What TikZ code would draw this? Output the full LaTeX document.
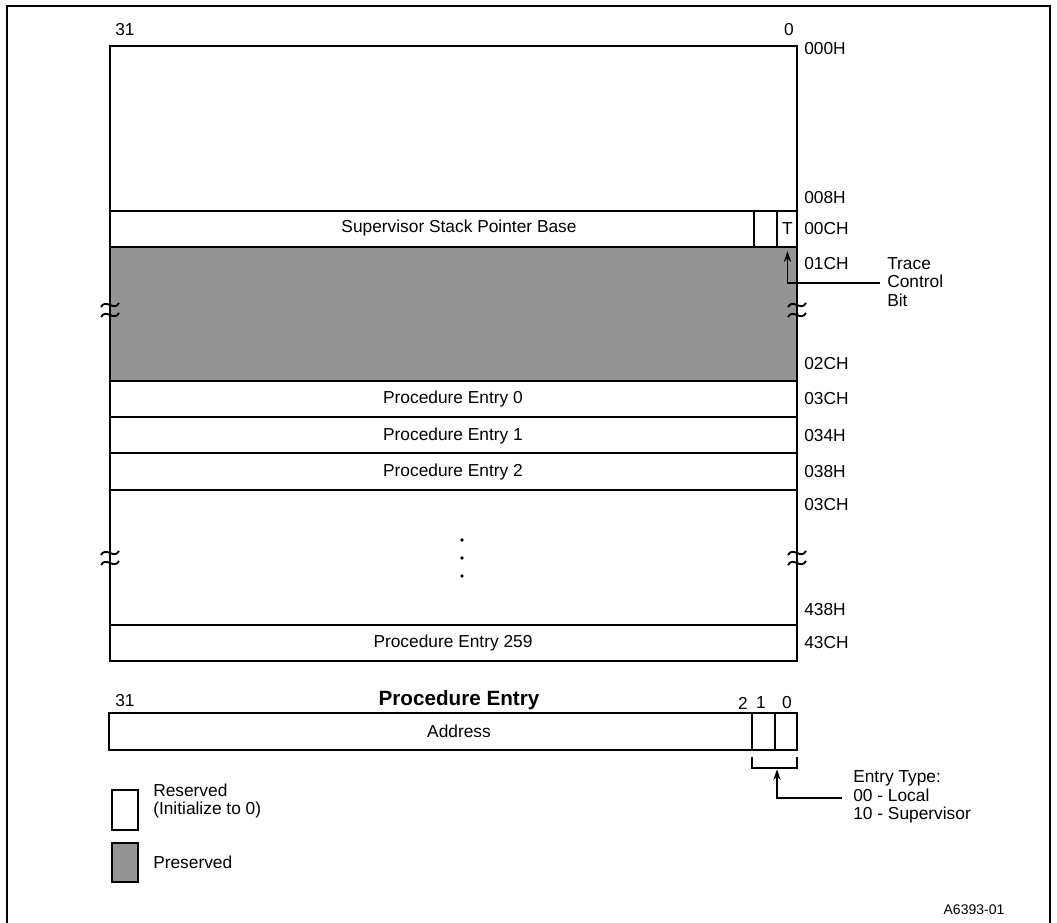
\documentclass[tikz,border=0pt]{standalone}
\usepackage{fontspec}
\setmainfont{Liberation Sans}
\usetikzlibrary{arrows.meta}
\begin{document}
\begin{tikzpicture}[x=0.75pt,y=-0.75pt,
  lbl/.style={font=\fontsize{13}{13.8}\selectfont, inner sep=0pt},
  addr/.style={lbl, anchor=west},
  boxline/.style={line width=1.8pt},
  rowline/.style={line width=1.6pt},
  brk/.style={line width=1.4pt},
  conn/.style={line width=1pt, -{Stealth[length=8pt,width=5.5pt]}}]
\useasboundingbox (0,0) rectangle (1057,923);
% outer frame
\draw[line width=0.8pt] (7,923) -- (7,6) -- (1050,6) -- (1050,923);

% shaded (preserved) region
\fill[black!42] (110,247) rectangle (797,381);
% main box
\draw[boxline] (110,46) rectangle (797,661);
\foreach \y in {211,247,381,417,453,490,625} \draw[rowline] (110,\y) -- (797,\y);
\draw[rowline] (754,211) -- (754,247) (777,211) -- (777,247);

% break marks
\foreach \x/\y in {110/305,110/315,797/305,797/315,110/553,110/563,797/553,797/563}
  \draw[brk] (\x-9,\y+2) .. controls (\x-4,\y-7) and (\x+4,\y+7) .. (\x+9,\y-2);

% bit numbers
\node[lbl] (b31) at (125,30) {31};
\node[lbl] (b0) at (789,30) {0};

% addresses
\node[addr] (a000) at (804,49) {000H};
\node[addr] (a008) at (804,198) {008H};
\node[addr] (a00c) at (804,229) {00CH};
\node[addr] (a01c) at (804,264) {01CH};
\node[addr] (a02c) at (804,364) {02CH};
\node[addr] (a03c) at (804,399) {03CH};
\node[addr] (a034) at (804,436) {034H};
\node[addr] (a038) at (804,472) {038H};
\node[addr] (a03cb) at (804,505) {03CH};
\node[addr] (a438) at (804,610) {438H};
\node[addr] (a43c) at (804,643) {43CH};

% row texts
\node[lbl] (ssp) at (459,228) {Supervisor Stack Pointer Base};
\node[lbl, minimum width=15pt, minimum height=27pt] (tcell) at (787.5,229) {T};
\node[lbl] (pe0) at (453,399) {Procedure Entry 0};
\node[lbl] (pe1) at (453,436) {Procedure Entry 1};
\node[lbl] (pe2) at (453,472) {Procedure Entry 2};
\node[lbl] (pe259) at (453,643) {Procedure Entry 259};
\foreach \y in {540,558,576} \fill (462,\y) circle (1.9);

% trace control bit
\node[lbl, anchor=west, align=left] (trace) at (887,282) {Trace\\Control\\Bit};
\coordinate (trstart) at (880,283);
\draw[conn] (trstart) -| ([yshift=-3pt]tcell.south);

% procedure entry format
\node[lbl] (p31) at (125,701) {31};
\node[font=\fontsize{15.5}{17}\selectfont\bfseries, inner sep=0pt] (ptitle) at (459,700) {Procedure Entry};
\node[lbl] (p2) at (743,703) {2};
\node[lbl] (p1) at (761,703) {1};
\node[lbl] (p0) at (787,703) {0};
\draw[boxline] (109,713) rectangle (797,750);
\draw[rowline] (752,713) -- (752,750) (775,713) -- (775,750);
\node[lbl] (addrtxt) at (459,731) {Address};
\draw[line width=1.2pt] (752,757) -- (752,768) -- (797,768) -- (797,757);
\coordinate (brmid) at (777,768);
\node[lbl, anchor=west, align=left] (etype) at (853,797) {Entry Type:\\00 - Local\\10 - Supervisor};
\coordinate (etstart) at (842,798);
\draw[conn] (etstart) -| ([yshift=-1pt]brmid);

% legend
\draw[line width=1.6pt, fill=white] (112,790) rectangle (138,830);
\node[lbl, anchor=west, align=left] (lres) at (153,801) {Reserved\\(Initialize to 0)};
\draw[line width=1.6pt, fill=black!42] (112,843) rectangle (138,882);
\node[lbl, anchor=west] (lpres) at (153,862) {Preserved};

\node[font=\fontsize{10.5}{12}\selectfont, inner sep=0pt] (fig) at (974,910) {A6393-01};
\end{tikzpicture}
\end{document}
